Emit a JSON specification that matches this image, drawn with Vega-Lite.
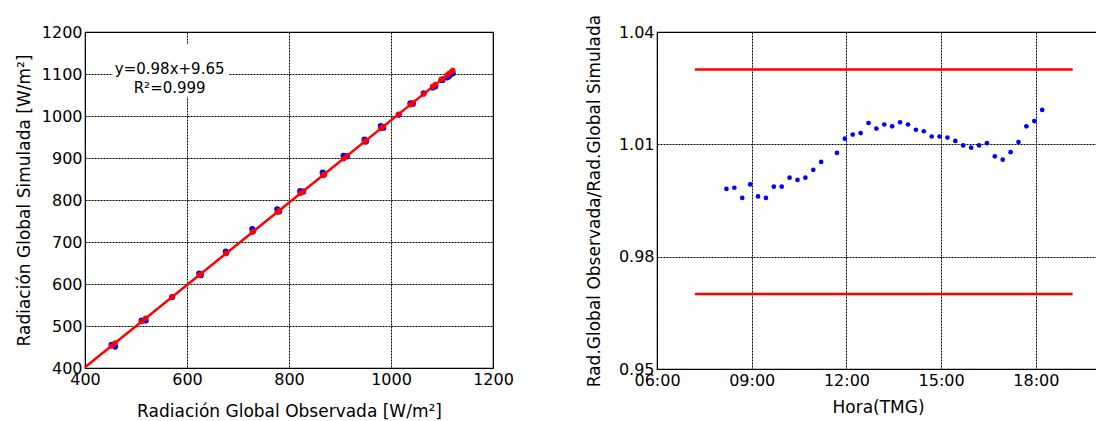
{
  "$schema": "https://vega.github.io/schema/vega-lite/v6.json",
  "background": "white",
  "padding": {"left": 14, "top": 13, "right": 0, "bottom": 0},
  "autosize": {"type": "pad"},
  "spacing": 164,
  "bounds": "flush",
  "config": {
    "font": "DejaVu Sans",
    "view": {"stroke": "#000", "strokeWidth": 1.2},
    "axis": {
      "labelFont": "DejaVu Sans", "titleFont": "DejaVu Sans",
      "labelFontSize": 16, "titleFontSize": 17,
      "labelColor": "#000", "titleColor": "#000", "titleFontWeight": "normal",
      "domain": false, "ticks": false, "labelOverlap": false, "labelFlush": false,
      "grid": true, "gridColor": "#000", "gridDash": [2, 1], "gridOpacity": 1, "gridWidth": 1,
      "labelPadding": 3
    }
  },
  "hconcat": [
    {
      "width": 408,
      "height": 336,
      "data": {"values": [
        {"observada": 452, "simulada": 455, "ajuste": 452.61},
        {"observada": 459, "simulada": 451, "ajuste": 459.47},
        {"observada": 511, "simulada": 513, "ajuste": 510.43},
        {"observada": 519, "simulada": 513, "ajuste": 518.27},
        {"observada": 571, "simulada": 569, "ajuste": 569.23},
        {"observada": 624, "simulada": 625, "ajuste": 621.17},
        {"observada": 627, "simulada": 621, "ajuste": 624.11},
        {"observada": 676, "simulada": 677, "ajuste": 672.13},
        {"observada": 677, "simulada": 674, "ajuste": 673.11},
        {"observada": 728, "simulada": 731, "ajuste": 723.09},
        {"observada": 730, "simulada": 726, "ajuste": 725.05},
        {"observada": 777, "simulada": 778, "ajuste": 771.11},
        {"observada": 781, "simulada": 773, "ajuste": 775.03},
        {"observada": 822, "simulada": 821, "ajuste": 815.21},
        {"observada": 828, "simulada": 820, "ajuste": 821.09},
        {"observada": 866, "simulada": 865, "ajuste": 858.33},
        {"observada": 869, "simulada": 861, "ajuste": 861.27},
        {"observada": 907, "simulada": 905, "ajuste": 898.51},
        {"observada": 914, "simulada": 904, "ajuste": 905.37},
        {"observada": 948, "simulada": 944, "ajuste": 938.69},
        {"observada": 951, "simulada": 939, "ajuste": 941.63},
        {"observada": 980, "simulada": 976, "ajuste": 970.05},
        {"observada": 985, "simulada": 972, "ajuste": 974.95},
        {"observada": 1015, "simulada": 1003, "ajuste": 1004.35},
        {"observada": 1038, "simulada": 1030, "ajuste": 1026.89},
        {"observada": 1043, "simulada": 1029, "ajuste": 1031.79},
        {"observada": 1064, "simulada": 1054, "ajuste": 1052.37},
        {"observada": 1082, "simulada": 1068, "ajuste": 1070.01},
        {"observada": 1087, "simulada": 1071, "ajuste": 1074.91},
        {"observada": 1099, "simulada": 1086, "ajuste": 1086.67},
        {"observada": 1101, "simulada": 1086, "ajuste": 1088.63},
        {"observada": 1110, "simulada": 1092, "ajuste": 1097.45},
        {"observada": 1114, "simulada": 1095, "ajuste": 1101.37},
        {"observada": 1119, "simulada": 1101, "ajuste": 1106.27},
        {"observada": 1121, "simulada": 1102, "ajuste": 1108.23}
      ]},
      "layer": [
        {
          "mark": {"type": "circle", "size": 38, "color": "#0000ff", "opacity": 1},
          "encoding": {
            "x": {"field": "observada", "type": "quantitative",
              "scale": {"domain": [400, 1200], "nice": false, "zero": false},
              "axis": {"values": [400, 600, 800, 1000, 1200], "format": "d", "title": "Radiación Global Observada [W/m²]", "titlePadding": 16}},
            "y": {"field": "simulada", "type": "quantitative",
              "scale": {"domain": [400, 1200], "nice": false, "zero": false},
              "axis": {"values": [400, 500, 600, 700, 800, 900, 1000, 1100, 1200], "format": "d", "title": "Radiación Global Simulada  [W/m²]", "titlePadding": 8}}
          }
        },
        {
          "data": {"values": [
            {"observada": 400, "ajuste": 401.65},
            {"observada": 1122, "ajuste": 1109.21}
          ]},
          "mark": {"type": "line", "color": "#ff0000", "strokeWidth": 2.5},
          "encoding": {
            "x": {"field": "observada", "type": "quantitative"},
            "y": {"field": "ajuste", "type": "quantitative"}
          }
        },
        {
          "mark": {"type": "circle", "size": 30, "color": "#ff0000", "opacity": 1},
          "encoding": {
            "x": {"field": "observada", "type": "quantitative"},
            "y": {"field": "ajuste", "type": "quantitative"}
          }
        },
        {
          "data": {"values": [{"x0": 454, "x1": 682, "y0": 1046, "y1": 1170}]},
          "mark": {"type": "rect", "color": "white", "opacity": 1},
          "encoding": {
            "x": {"field": "x0", "type": "quantitative"},
            "x2": {"field": "x1"},
            "y": {"field": "y0", "type": "quantitative"},
            "y2": {"field": "y1"}
          }
        },
        {
          "data": {"values": [
            {"etiqueta": "y=0.98x+9.65", "tx": 566, "ty": 1111},
            {"etiqueta": "R²=0.999", "tx": 566, "ty": 1066}
          ]},
          "mark": {"type": "text", "font": "DejaVu Sans", "fontSize": 15, "color": "#000", "align": "center", "baseline": "middle"},
          "encoding": {
            "x": {"field": "tx", "type": "quantitative"},
            "y": {"field": "ty", "type": "quantitative"},
            "text": {"field": "etiqueta"}
          }
        }
      ]
    },
    {
      "width": 442,
      "height": 337,
      "layer": [
        {
          "data": {"values": [
            {"limite": 1.03, "inicio": "2000-01-01T07:12:00", "fin": "2000-01-01T19:10:00"},
            {"limite": 0.97, "inicio": "2000-01-01T07:12:00", "fin": "2000-01-01T19:10:00"}
          ]},
          "mark": {"type": "rule", "color": "#ff0000", "strokeWidth": 2.5},
          "encoding": {
            "x": {"field": "inicio", "type": "temporal",
              "scale": {"domain": [
                {"year": 2000, "month": 1, "date": 1, "hours": 6},
                {"year": 2000, "month": 1, "date": 1, "hours": 20}
              ], "nice": false},
              "axis": {"format": "%H:%M", "title": "Hora(TMG)", "titlePadding": 11,
                "values": [
                  {"year": 2000, "month": 1, "date": 1, "hours": 6},
                  {"year": 2000, "month": 1, "date": 1, "hours": 9},
                  {"year": 2000, "month": 1, "date": 1, "hours": 12},
                  {"year": 2000, "month": 1, "date": 1, "hours": 15},
                  {"year": 2000, "month": 1, "date": 1, "hours": 18}
                ]}},
            "x2": {"field": "fin"},
            "y": {"field": "limite", "type": "quantitative",
              "scale": {"domain": [0.95, 1.04], "nice": false, "zero": false},
              "axis": {"values": [0.95, 0.98, 1.01, 1.04], "format": ".2f", "title": "Rad.Global Observada/Rad.Global Simulada", "titlePadding": 15}}
          }
        },
        {
          "data": {"values": [
            {"hora": "2000-01-01T08:12:00", "cociente": 0.9981},
            {"hora": "2000-01-01T08:27:00", "cociente": 0.9984},
            {"hora": "2000-01-01T08:42:00", "cociente": 0.9957},
            {"hora": "2000-01-01T08:57:00", "cociente": 0.9993},
            {"hora": "2000-01-01T09:12:00", "cociente": 0.9961},
            {"hora": "2000-01-01T09:27:00", "cociente": 0.9957},
            {"hora": "2000-01-01T09:42:00", "cociente": 0.9987},
            {"hora": "2000-01-01T09:57:00", "cociente": 0.9987},
            {"hora": "2000-01-01T10:12:00", "cociente": 1.0011},
            {"hora": "2000-01-01T10:27:00", "cociente": 1.0005},
            {"hora": "2000-01-01T10:42:00", "cociente": 1.0011},
            {"hora": "2000-01-01T10:57:00", "cociente": 1.0032},
            {"hora": "2000-01-01T11:12:00", "cociente": 1.0053},
            {"hora": "2000-01-01T11:42:00", "cociente": 1.0077},
            {"hora": "2000-01-01T11:57:00", "cociente": 1.0115},
            {"hora": "2000-01-01T12:12:00", "cociente": 1.0126},
            {"hora": "2000-01-01T12:27:00", "cociente": 1.0130},
            {"hora": "2000-01-01T12:42:00", "cociente": 1.0157},
            {"hora": "2000-01-01T12:57:00", "cociente": 1.0142},
            {"hora": "2000-01-01T13:12:00", "cociente": 1.0153},
            {"hora": "2000-01-01T13:27:00", "cociente": 1.0148},
            {"hora": "2000-01-01T13:42:00", "cociente": 1.0159},
            {"hora": "2000-01-01T13:57:00", "cociente": 1.0153},
            {"hora": "2000-01-01T14:12:00", "cociente": 1.0139},
            {"hora": "2000-01-01T14:27:00", "cociente": 1.0135},
            {"hora": "2000-01-01T14:42:00", "cociente": 1.0121},
            {"hora": "2000-01-01T14:57:00", "cociente": 1.0121},
            {"hora": "2000-01-01T15:12:00", "cociente": 1.0118},
            {"hora": "2000-01-01T15:27:00", "cociente": 1.0109},
            {"hora": "2000-01-01T15:42:00", "cociente": 1.0097},
            {"hora": "2000-01-01T15:57:00", "cociente": 1.0091},
            {"hora": "2000-01-01T16:12:00", "cociente": 1.0097},
            {"hora": "2000-01-01T16:27:00", "cociente": 1.0103},
            {"hora": "2000-01-01T16:42:00", "cociente": 1.0068},
            {"hora": "2000-01-01T16:57:00", "cociente": 1.0059},
            {"hora": "2000-01-01T17:12:00", "cociente": 1.0079},
            {"hora": "2000-01-01T17:27:00", "cociente": 1.0106},
            {"hora": "2000-01-01T17:42:00", "cociente": 1.0148},
            {"hora": "2000-01-01T17:57:00", "cociente": 1.0162},
            {"hora": "2000-01-01T18:12:00", "cociente": 1.0192}
          ]},
          "mark": {"type": "circle", "size": 22, "color": "#0000ff", "opacity": 1},
          "encoding": {
            "x": {"field": "hora", "type": "temporal"},
            "y": {"field": "cociente", "type": "quantitative"}
          }
        }
      ]
    }
  ]
}
